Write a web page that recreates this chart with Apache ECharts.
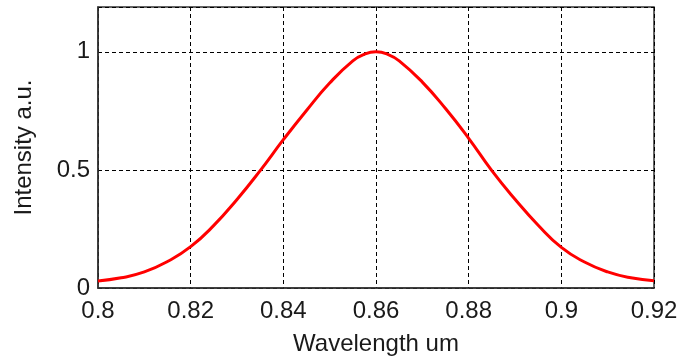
<!DOCTYPE html>
<html>
<head>
<meta charset="utf-8">
<script src="https://cdn.jsdelivr.net/npm/echarts@6/dist/echarts.min.js"></script>
<style>html,body{margin:0;padding:0;background:#fff;}#c{width:684px;height:361px;}</style>
</head>
<body>
<div id="c"></div>
<script>
const wavelength = [0.8, 0.805, 0.81, 0.815, 0.82, 0.825, 0.83, 0.835, 0.84, 0.845, 0.85, 0.855, 0.8575, 0.86,
  0.8625, 0.865, 0.87, 0.875, 0.88, 0.885, 0.89, 0.895, 0.9, 0.905, 0.91, 0.915, 0.92];
const intensity = [0.03, 0.043, 0.068, 0.112, 0.175, 0.265, 0.375, 0.497, 0.628, 0.752, 0.868, 0.962, 0.99, 1.0,
  0.99, 0.962, 0.872, 0.76, 0.634, 0.497, 0.376, 0.266, 0.172, 0.11, 0.068, 0.043, 0.031];
const xTicks = [0.8, 0.82, 0.84, 0.86, 0.88, 0.9, 0.92];
const yTicks = [0, 0.5, 1];
const xTitle = 'Wavelength um';
const yTitle = 'Intensity a.u.';

const font = 'Liberation Sans, Arial, sans-serif';
const chart = echarts.init(document.getElementById('c'));
chart.setOption({
  animation: false,
  backgroundColor: '#fff',
  grid: {left: 98, right: 30, top: 7, bottom: 72, show: true, borderColor: '#333', borderWidth: 1.5, backgroundColor: 'transparent'},
  xAxis: {
    type: 'value', min: 0.8, max: 0.92, interval: 0.02,
    name: xTitle, nameLocation: 'middle', nameGap: 44,
    nameTextStyle: {fontFamily: font, fontSize: 24, color: '#1a1a1a'},
    axisLine: {show: true, lineStyle: {color: '#333', width: 1.5}},
    axisTick: {show: false},
    axisLabel: {fontFamily: font, fontSize: 24, color: '#1a1a1a', margin: 11,
      formatter: v => { const m = xTicks.find(t => Math.abs(t - v) < 1e-9); return m === undefined ? '' : String(m); }},
    splitLine: {show: true, lineStyle: {type: [4, 3], color: '#000', width: 1}}
  },
  yAxis: {
    type: 'value', min: 0, max: 1.19, interval: 0.5,
    name: yTitle, nameLocation: 'middle', nameGap: 62,
    nameTextStyle: {fontFamily: font, fontSize: 24, color: '#1a1a1a'},
    axisLine: {show: true, lineStyle: {color: '#333', width: 1.5}},
    axisTick: {show: false},
    axisLabel: {fontFamily: font, fontSize: 24, color: '#1a1a1a', margin: 8, showMaxLabel: false,
      formatter: v => { const m = yTicks.find(t => Math.abs(t - v) < 1e-9); return m === undefined ? '' : String(m); }},
    splitLine: {show: true, lineStyle: {type: [4, 3], color: '#000', width: 1}}
  },
  series: [{
    type: 'line',
    data: wavelength.map((w, i) => [w, intensity[i]]),
    smooth: 0.5,
    showSymbol: false,
    lineStyle: {color: '#ff0000', width: 3}
  }]
});
</script>
</body>
</html>
